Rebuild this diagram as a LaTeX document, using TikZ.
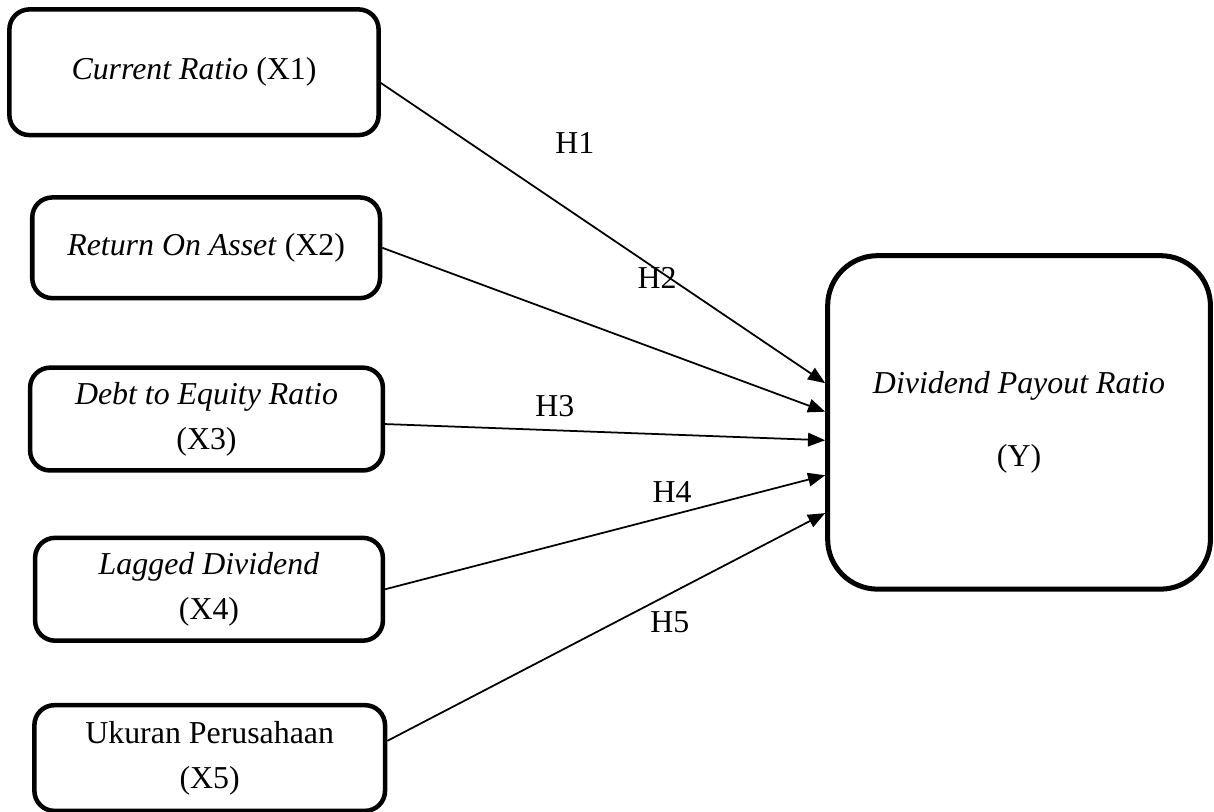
\documentclass[tikz,border=0pt]{standalone}
\usepackage{fontspec}
\setmainfont{Liberation Serif}
\usetikzlibrary{positioning,arrows.meta}

\tikzset{
  varbox/.style={draw, line width=1.8pt, rounded corners=0.28cm, align=center, inner sep=0pt},
  hyp/.style={-{Triangle[length=0.24cm,width=0.19cm]}, line width=0.7pt},
  hlabel/.style={inner sep=0pt}
}

\begin{document}
\begin{tikzpicture}[font=\fontsize{12.7}{18}\selectfont]
    \useasboundingbox (0,0) rectangle (17.0,-11.37);

    \node[varbox, anchor=north west, minimum width=5.17cm, minimum height=1.76cm] (x1) at (0.1,-0.1) {\textit{Current Ratio} (X1)};
    \node[varbox, below right=0.81cm and 0.32cm of x1.south west, minimum width=4.87cm, minimum height=1.41cm] (x2) {\textit{Return On Asset} (X2)};
    \node[varbox, below right=0.91cm and -0.03cm of x2.south west, minimum width=4.94cm, minimum height=1.44cm] (x3) {\textit{Debt to Equity Ratio}\\(X3)};
    \node[varbox, below right=0.88cm and 0.07cm of x3.south west, minimum width=4.87cm, minimum height=1.44cm] (x4) {\textit{Lagged Dividend}\\(X4)};
    \node[varbox, below right=0.84cm and -0.01cm of x4.south west, minimum width=4.91cm, minimum height=1.48cm] (x5) {Ukuran Perusahaan\\(X5)};
    \node[varbox, line width=2pt, rounded corners=0.7cm, minimum width=5.36cm, minimum height=4.67cm] (y) at (14.27,-5.915) {\textit{Dividend Payout Ratio}\\[11pt](Y)};

    \draw[hyp] ([yshift=-0.15cm]x1.east) -- ([yshift=0.55cm]y.west);
    \draw[hyp] (x2.east) -- ([yshift=0.15cm]y.west);
    \draw[hyp] ([yshift=-0.07cm]x3.east) -- ([yshift=-0.25cm]y.west);
    \draw[hyp] (x4.east) -- ([yshift=-0.74cm]y.west);
    \draw[hyp] ([yshift=0.24cm]x5.east) -- ([yshift=-1.27cm]y.west);

    \node[hlabel] (h1) at (8.05,-2.0) {H1};
    \node[hlabel] (h2) at (9.2,-3.89) {H2};
    \node[hlabel] (h3) at (7.77,-5.68) {H3};
    \node[hlabel] (h4) at (9.41,-6.89) {H4};
    \node[hlabel] (h5) at (9.38,-8.71) {H5};
\end{tikzpicture}
\end{document}
